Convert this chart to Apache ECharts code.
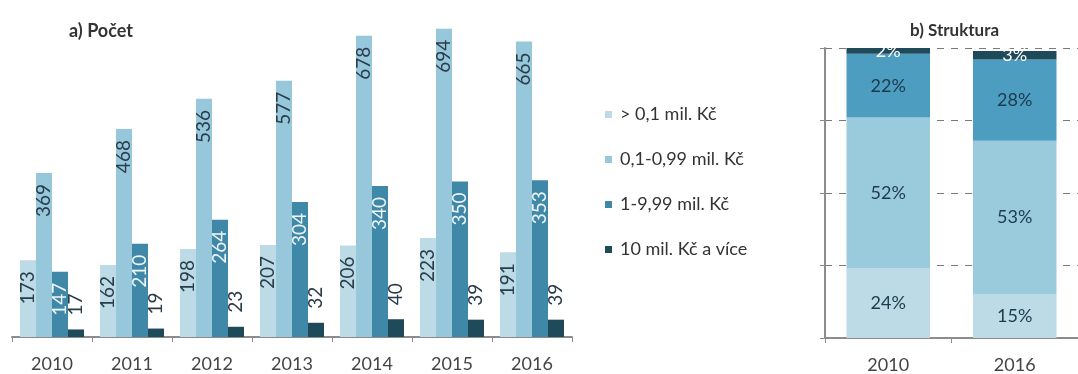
<!DOCTYPE html>
<html>
<head>
<meta charset="utf-8">
<script src="https://cdn.jsdelivr.net/npm/echarts@6/dist/echarts.min.js"></script>
<style>
  html, body { margin: 0; padding: 0; background: #fff; }
  #chart { width: 1078px; height: 374px; }
</style>
</head>
<body>
<div id="chart"></div>
<script>
// Počet projektů podle velikosti (a) a jejich struktura (b)
const years = ['2010', '2011', '2012', '2013', '2014', '2015', '2016'];
const seriesNames = ['> 0,1 mil. Kč', '0,1-0,99 mil. Kč', '1-9,99 mil. Kč', '10 mil. Kč a více'];
const countSmall = [173, 162, 198, 207, 206, 223, 191];
const countMid = [369, 468, 536, 577, 678, 694, 665];
const countLarge = [147, 210, 264, 304, 340, 350, 353];
const countHuge = [17, 19, 23, 32, 40, 39, 39];

const structYears = ['2010', '2016'];
const shareSmall = [24, 15];
const shareMid = [52, 53];
const shareLarge = [22, 28];
const shareHuge = [2, 3];

const colors = ['#bcdbe6', '#97c7da', '#3f88a8', '#1f4a5a'];
const colorsRight = ['#bcdbe6', '#9acbdd', '#4d9dc0', '#1f4a5a'];
const FONT = 'Lato, "Open Sans", sans-serif';

const chart = echarts.init(document.getElementById('chart'), null, { renderer: 'canvas' });

function insideLabel(color) {
  return {
    show: true, position: 'insideTop', distance: 11, rotate: 90,
    align: 'right', verticalAlign: 'middle',
    color: color, fontFamily: FONT, fontSize: 19
  };
}
function topLabel(color) {
  return {
    show: true, position: 'top', distance: 14, rotate: 90,
    align: 'left', verticalAlign: 'middle',
    color: color, fontFamily: FONT, fontSize: 19
  };
}
function pctLabel(color) {
  return {
    show: true, position: 'inside', color: color, fontFamily: FONT, fontSize: 18,
    formatter: p => p.value + '%'
  };
}

const countData = [countSmall, countMid, countLarge, countHuge];
const shareData = [shareSmall, shareMid, shareLarge, shareHuge];
const countLabels = [insideLabel('#2a3c4a'), insideLabel('#2a3c4a'), insideLabel('#eef4f7'), topLabel('#2a3c4a')];
const shareLabelColors = ['#1b3a50', '#1b3a50', '#1b3a50', '#ffffff'];

const series = [];
countData.forEach((d, i) => {
  series.push({
    name: seriesNames[i], type: 'bar', xAxisIndex: 0, yAxisIndex: 0,
    data: d, barGap: '0%', barCategoryGap: '20%',
    itemStyle: { color: colors[i] },
    label: countLabels[i], emphasis: { disabled: true }
  });
});
shareData.forEach((d, i) => {
  series.push({
    name: 'b' + i, type: 'bar', xAxisIndex: 1, yAxisIndex: 1, stack: 'share',
    data: d, barCategoryGap: '34%',
    itemStyle: { color: colorsRight[i] },
    label: pctLabel(shareLabelColors[i]), emphasis: { disabled: true }
  });
});

chart.setOption({
  animation: false,
  title: [
    { text: 'a) Počet', left: 64, top: 17, textStyle: { fontFamily: FONT, fontSize: 18, fontWeight: 'bold', color: '#333' } },
    { text: 'b) Struktura', left: 905, top: 17, textStyle: { fontFamily: FONT, fontSize: 17, fontWeight: 'bold', color: '#333' } }
  ],
  legend: {
    data: seriesNames, orient: 'vertical', left: 600, top: 99,
    itemWidth: 7, itemHeight: 7, itemGap: 24, icon: 'rect',
    textStyle: { fontFamily: FONT, fontSize: 18, color: '#333', lineHeight: 21, padding: [0, 0, 0, 3] },
    selectedMode: false
  },
  grid: [
    { left: 12, right: 506, top: 26, bottom: 37 },
    { left: 825, right: -7, top: 48, bottom: 36 }
  ],
  xAxis: [
    {
      type: 'category', gridIndex: 0, data: years,
      axisLine: { lineStyle: { color: '#8c8c8c', width: 2 } },
      axisTick: { show: true, length: 5, lineStyle: { color: '#8c8c8c' } },
      axisLabel: { fontFamily: FONT, fontSize: 18, color: '#444', margin: 18 }
    },
    {
      type: 'category', gridIndex: 1, data: structYears,
      axisLine: { lineStyle: { color: '#8c8c8c', width: 2 } },
      axisTick: { show: true, length: 5, lineStyle: { color: '#8c8c8c' } },
      axisLabel: { fontFamily: FONT, fontSize: 18, color: '#444', margin: 18 }
    }
  ],
  yAxis: [
    { type: 'value', gridIndex: 0, min: 0, max: 700, show: false, splitLine: { show: false } },
    {
      type: 'value', gridIndex: 1, min: 0, max: 100, interval: 25,
      axisLine: { show: true, lineStyle: { color: '#8c8c8c', width: 2 } },
      axisTick: { show: true, length: 5, lineStyle: { color: '#8c8c8c' } },
      axisLabel: { show: false },
      splitLine: { show: true, lineStyle: { color: '#7a7a7a', type: [7, 7], width: 1 } }
    }
  ],
  series: series
});
</script>
</body>
</html>
